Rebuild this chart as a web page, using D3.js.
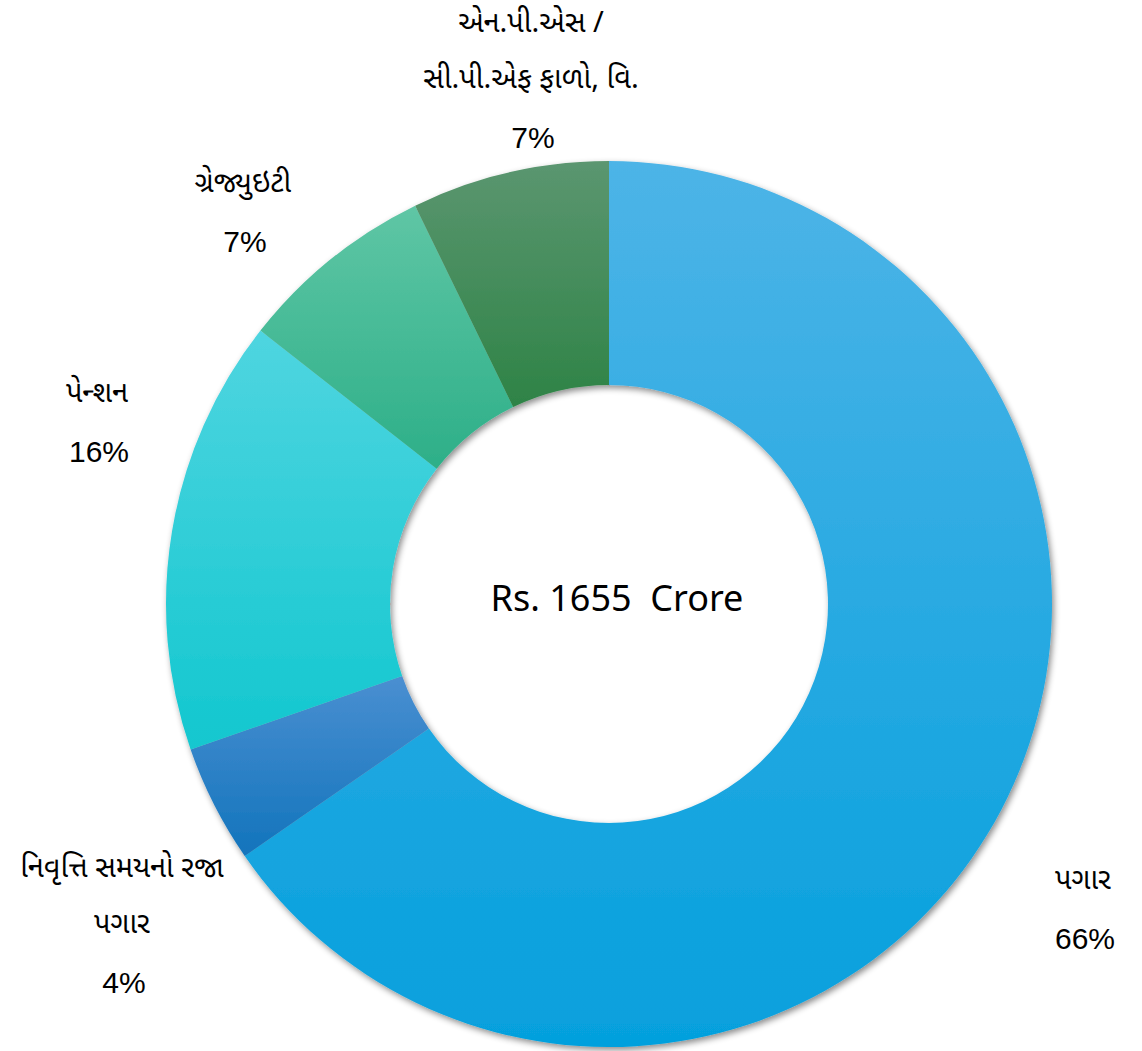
<!DOCTYPE html>
<html><head><meta charset="utf-8">
<script src="https://cdn.jsdelivr.net/npm/d3@7"></script>
<style>
html,body{margin:0;padding:0;background:#fff;}
svg{display:block;}
</style></head>
<body>
<svg id="chart" width="1142" height="1051"></svg>
<script>
const categories = ["પગાર", "નિવૃત્તિ સમયનો રજા પગાર", "પેન્શન", "ગ્રેજ્યુઇટી", "એન.પી.એસ / સી.પી.એફ ફાળો, વિ."];
const values = [65.3, 4.3, 15.9, 7.2, 7.2];
const pctLabels = ["66%", "4%", "16%", "7%", "7%"];
const labelLines = [["પગાર"], ["નિવૃત્તિ સમયનો રજા", "પગાર"], ["પેન્શન"], ["ગ્રેજ્યુઇટી"], ["એન.પી.એસ /", "સી.પી.એફ ફાળો, વિ."]];
const colorTop = ["#4db4e7", "#4a8fd1", "#4fd5e0", "#5fc6a5", "#5b9670"];
const colorBottom = ["#05a0dd", "#1274bc", "#12c7cf", "#2daf88", "#2e8346"];
const centerText = "Rs. 1655  Crore";

const svg = d3.select("#chart");
const cx = 609, cy = 604, R = 443, r = 219;
const defs = svg.append("defs");
const f = defs.append("filter").attr("id","sh").attr("x","-10%").attr("y","-10%").attr("width","120%").attr("height","120%");
f.append("feDropShadow").attr("dx",2).attr("dy",3).attr("stdDeviation",3).attr("flood-color","#000").attr("flood-opacity",0.45);

categories.forEach((c,i)=>{
  const g = defs.append("linearGradient").attr("id","g"+i).attr("x1",0).attr("y1",0).attr("x2",0).attr("y2",1);
  g.append("stop").attr("offset","0%").attr("stop-color",colorTop[i]);
  g.append("stop").attr("offset","100%").attr("stop-color",colorBottom[i]);
});

const pie = d3.pie().sort(null).value(d=>d)(values);
const arc = d3.arc().innerRadius(r).outerRadius(R);
const g = svg.append("g").attr("transform",`translate(${cx},${cy})`);
const slices = g.append("g").attr("filter","url(#sh)");
slices.selectAll("path").data(pie).join("path")
  .attr("d",arc)
  .attr("fill",(d,i)=>`url(#g${i})`);

svg.append("text").attr("x",cx+8).attr("y",cy-7)
  .attr("text-anchor","middle").attr("dominant-baseline","central")
  .attr("font-family","'Noto Sans', 'Open Sans', sans-serif").attr("font-size",36).attr("fill","#000")
  .style("white-space","pre").text(centerText);

// label anchor positions (centre x, first-line y)
const labelPos = [[1083, 882], [122, 870], [97, 395], [243, 185], [531, 25]];
const lh = 56;
labelPos.forEach((p,i)=>{
  const t = svg.append("g");
  labelLines[i].forEach((ln,j)=>{
    t.append("text").attr("x",p[0]).attr("y",p[1]+j*lh)
      .attr("text-anchor","middle").attr("dominant-baseline","central")
      .attr("font-family","'Noto Sans Gujarati','Noto Sans','DejaVu Sans',sans-serif")
      .attr("font-size",29).attr("fill","#000").text(ln);
  });
  t.append("text").attr("x",p[0]+2).attr("y",p[1]+labelLines[i].length*lh)
    .attr("text-anchor","middle").attr("dominant-baseline","central")
    .attr("font-family","'Liberation Sans', Arial, sans-serif")
    .attr("font-size",30).attr("fill","#000").text(pctLabels[i]);
});
</script>
</body></html>
